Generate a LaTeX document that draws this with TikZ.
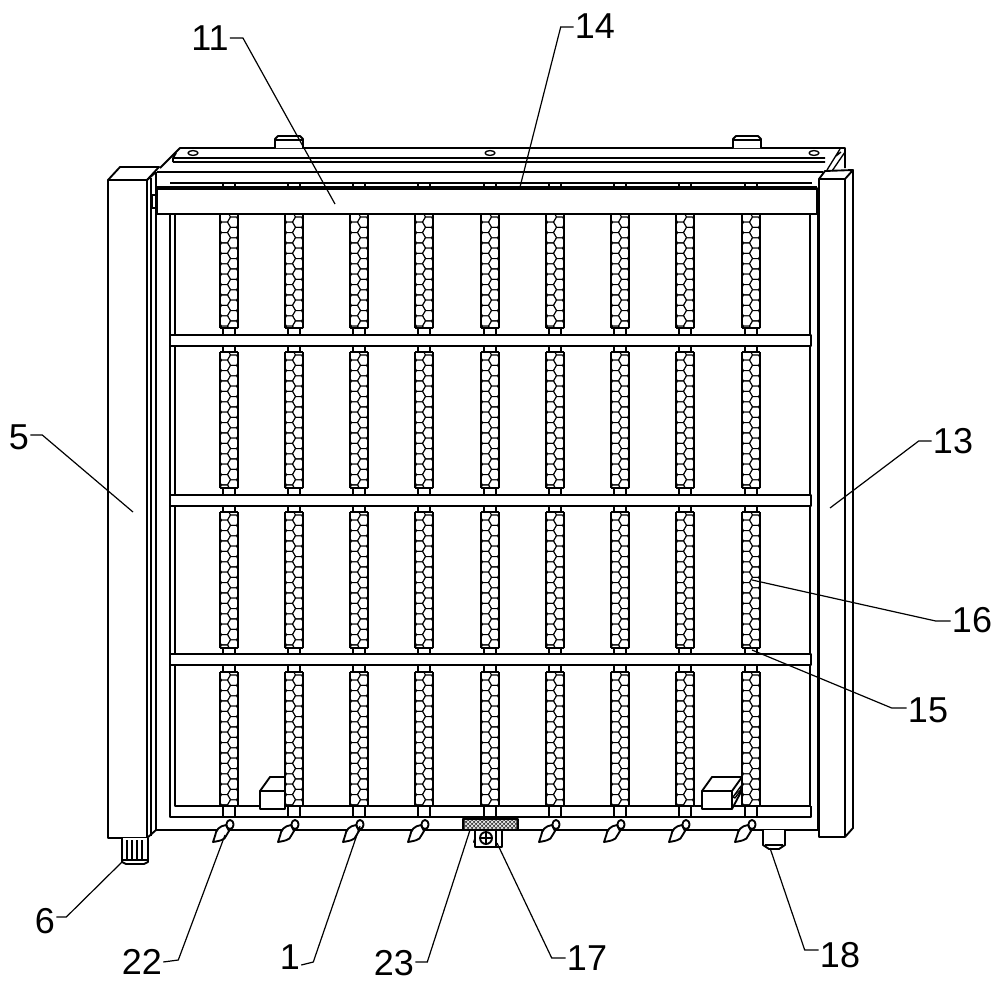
\documentclass[tikz,border=0pt]{standalone}
\usepackage{fontspec}
\setmainfont{Liberation Sans}
\usetikzlibrary{patterns}

\tikzset{
  part/.style={line width=1.4pt,line join=round},
  fine/.style={line width=1pt,line join=round},
  bead/.style={line width=0.8pt,line join=round,fill=white},
  leader/.style={line width=0.9pt},
  numlab/.style={font=\fontsize{27}{27}\selectfont,inner sep=0pt,anchor=center},
}

% one honeycomb heater between two y values
\newcommand{\beadcol}[3]{
  \begin{scope}
    \clip (#1-9,#2) rectangle (#1+9,#3);
    \foreach \k in {0,...,13} {
      \draw[bead] (#1-4.5,#2+3+\k*10.4)+(0:6) -- +(60:6) -- +(120:6) -- +(180:6) -- +(240:6) -- +(300:6) -- cycle;
      \draw[bead] (#1+4.5,#2+8.2+\k*10.4)+(0:6) -- +(60:6) -- +(120:6) -- +(180:6) -- +(240:6) -- +(300:6) -- cycle;
    }
  \end{scope}
  \draw[part] (#1-9,#2) -- (#1-9,#3) (#1+9,#2) -- (#1+9,#3) (#1-9,#3) -- (#1+9,#3);
}
% one slanted bulb below a column
\newcommand{\bulb}[1]{
  \draw[part,fill=white] (#1-3,825) .. controls (#1-10,826) and (#1-13,830) .. (#1-14,836) -- (#1-16,842)
    .. controls (#1-10,841) and (#1-4,840) .. (#1-3,836) -- (#1,831) -- cycle;
  \draw[part,fill=white] (#1+1,824.5) ellipse (3.6 and 4.5);
}

\begin{document}
\begin{tikzpicture}[x=0.75pt,y=-0.75pt]
  \useasboundingbox[fill=white] (0,0) rectangle (1000,986);

  % top panel
  \draw[part] (160,168) -- (180,148) -- (845,148) -- (845,168);
  \draw[part] (173,158) -- (825,158) (173,158) -- (176,153) (173,162) -- (825,162) (173,158) -- (173,162);
  \draw[part] (157,172) -- (823,172);
  \draw[part] (170,183) -- (812,183);
  \draw[fine] (840,149) -- (827,170) (845,152) -- (832,171) (836,156) -- (841,152);
  \draw[part,fill=white] (275,148) -- (275,139) -- (278,136) -- (300,136) -- (303,139) -- (303,148);
  \draw[fine] (276,140) -- (302,140);
  \draw[part,fill=white] (733,148) -- (733,139) -- (736,136) -- (758,136) -- (761,139) -- (761,148);
  \draw[fine] (734,140) -- (760,140);
  \foreach \ox in {193,490,814}
    \draw[fine] (\ox,153) ellipse (5 and 2.4);

  % frame
  \draw[part] (170,214) -- (170,817) -- (811,817) -- (811,806);
  \draw[part] (175,214) -- (175,806) -- (811,806);
  \draw[part] (810,214) -- (810,806) (818,214) -- (818,830);
  \draw[part] (156,172) -- (156,830) -- (818,830);
  \draw[part] (151,178) -- (151,836);
  \foreach \by in {335,495,654}
    \draw[part,fill=white] (170,\by) rectangle (811,\by+11);

  % heaters and stubs
  \foreach \cx in {229,294,359,424,490,555,620,685,751} {
    \beadcol{\cx}{214}{328}
    \beadcol{\cx}{352}{488}
    \beadcol{\cx}{512}{648}
    \beadcol{\cx}{672}{806}
    \foreach \sa/\sb in {328/335,346/352,488/495,506/512,648/654,665/672,806/817}
      \draw[part] (\cx-6,\sa) -- (\cx-6,\sb) (\cx+6,\sa) -- (\cx+6,\sb);
    \foreach \ty in {352,512,672}
      \draw[part] (\cx-9,\ty) -- (\cx+9,\ty);
    \bulb{\cx}
    \draw[fine] (\cx-6,183) -- (\cx-6,188) (\cx+6,183) -- (\cx+6,188);
  }

  % rail with thick upper edge
  \draw[part,fill=white] (157,188) rectangle (817,214);
  \draw[line width=2.6pt] (157,188) -- (817,188);
  \draw[fine] (152,195) rectangle (157,208) (817,195) rectangle (820,208);

  % blocks
  \draw[part,fill=white] (260,791) -- (270,777) -- (285,777) -- (285,809) -- (260,809) -- cycle;
  \draw[part] (260,791) -- (285,791);
  \draw[part,fill=white] (702,791) -- (712,777) -- (742,777) -- (742,790) -- (732,809) -- (702,809) -- cycle;
  \draw[part] (702,791) -- (732,791) -- (732,809) (732,791) -- (742,777);
  \draw[fine,pattern=north east lines] (733,797) -- (741,786) -- (741,790) -- (735,798) -- cycle;

  % left post
  \draw[part,fill=white] (108,180) rectangle (147,838);
  \draw[part] (108,180) -- (120,167) -- (159,167) -- (147,180);
  \draw[part] (147,838) -- (156,830) (156,172) -- (147,180);

  % right post
  \draw[part,fill=white] (819,179) rectangle (845,837);
  \draw[part] (819,179) -- (825,171) -- (853,170) -- (845,179);
  \draw[part] (853,170) -- (853,828) -- (845,837);

  % knob under left post
  \draw[part,fill=white] (122,838) -- (122,862) -- (126,864) -- (144,864) -- (148,862) -- (148,838);
  \foreach \rx in {127,132,137,142}
    \draw[part] (\rx,840) -- (\rx,859);
  \draw[fine] (123,860) -- (147,860);

  % latch and its hatched plate
  \draw[part,fill=white] (475,830) -- (475,847) -- (502,847) -- (502,830);
  \draw[part] (496,830) -- (496,847);
  \draw[part,fill=white] (486,838) circle (6);
  \draw[fine] (481,838) -- (491,838) (486,833) -- (486,843);
  \fill[black!75] (463,819) rectangle (518,830);
  \fill[pattern=crosshatch,pattern color=white] (465,820) rectangle (516,829);
  \draw[part] (463,819) rectangle (518,830);

  % foot on the right
  \draw[part,fill=white] (763,830) -- (763,845) -- (769,849) -- (779,849) -- (785,845) -- (785,830);
  \draw[fine] (765,845) -- (783,845);

  % labels
  \node[numlab] (lab11) at (210,38) {11};
  \node[numlab] (lab14) at (595,26) {14};
  \node[numlab] (lab5)  at (19,437) {5};
  \node[numlab] (lab13) at (953,441) {13};
  \node[numlab] (lab16) at (972,620) {16};
  \node[numlab] (lab15) at (928,710) {15};
  \node[numlab] (lab18) at (840,955) {18};
  \node[numlab] (lab17) at (587,958) {17};
  \node[numlab] (lab23) at (394,963) {23};
  \node[numlab] (lab1)  at (290,957) {1};
  \node[numlab] (lab22) at (142,962) {22};
  \node[numlab] (lab6)  at (45,921) {6};

  \coordinate (end11) at (335,204);
  \coordinate (end14) at (520,187);
  \coordinate (end5)  at (133,512);
  \coordinate (end13) at (830,508);
  \coordinate (end16) at (752,580);
  \coordinate (end15) at (752,650);
  \coordinate (end18) at (770,848);
  \coordinate (end17) at (497,843);
  \coordinate (end23) at (470,830);
  \coordinate (end1)  at (360,826);
  \coordinate (end22) at (225,835);
  \coordinate (end6)  at (122,862);

  \draw[leader] (lab11.east) ++(1,0) -- ++(13,0) -- (end11);
  \draw[leader] (lab14.west) ++(-1,1) -- ++(-13,0) -- (end14);
  \draw[leader] (lab5.east) ++(1,-2) -- ++(12,0) -- (end5);
  \draw[leader] (lab13.west) ++(-1,0) -- ++(-13,0) -- (end13);
  \draw[leader] (lab16.west) ++(-1,1) -- ++(-15,0) -- (end16);
  \draw[leader] (lab15.west) ++(-1,-2) -- ++(-15,0) -- (end15);
  \draw[leader] (lab18.west) ++(-1,-5) -- ++(-14,0) -- (end18);
  \draw[leader] (lab17.west) ++(-1,0) -- ++(-14,0) -- (end17);
  \draw[leader] (lab23.east) ++(1,-1) -- ++(12,0) -- (end23);
  \draw[leader] (lab1.east) ++(1,8) -- ++(12,-3) -- (end1);
  \draw[leader] (lab22.east) ++(1,0) -- ++(15,-2) -- (end22);
  \draw[leader] (lab6.east) ++(1,-4) -- ++(10,0) -- (end6);
\end{tikzpicture}
\end{document}
